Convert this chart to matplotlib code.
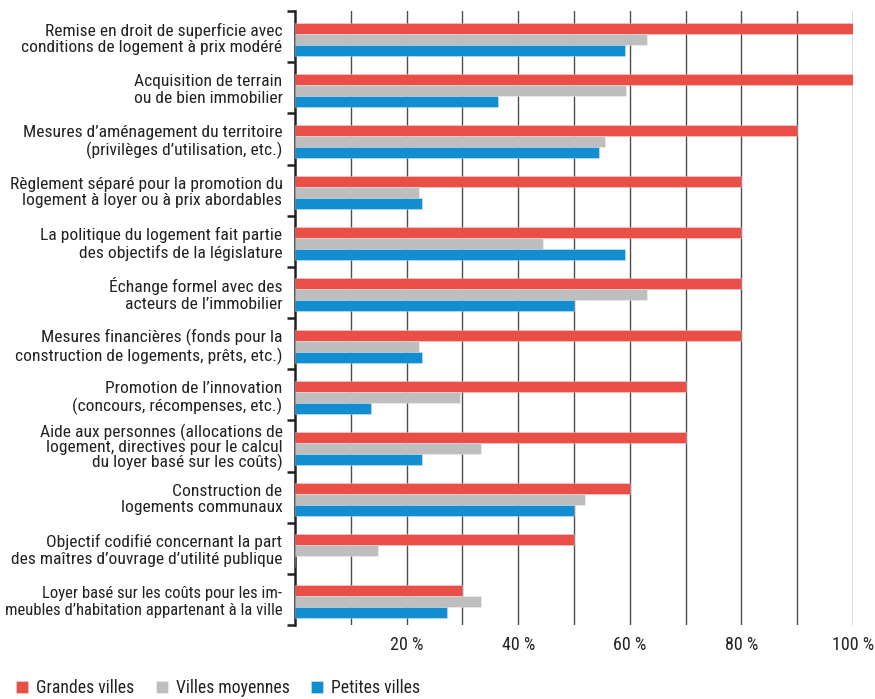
import numpy as np
import matplotlib
matplotlib.use("Agg")
import matplotlib.pyplot as plt
from matplotlib import font_manager

# pick a condensed sans if one is installed
_fonts = font_manager.fontManager.ttflist
_names = {f.name for f in _fonts}
_stretch = "normal"
_family = None
for cand in ["Roboto Condensed", "Liberation Sans Narrow", "Open Sans Condensed",
             "Noto Sans Condensed", "DejaVu Sans Condensed"]:
    if cand in _names:
        _family = cand
        break
if _family is None:
    for f in _fonts:
        if f.name in ("Noto Sans", "Roboto", "DejaVu Sans", "Open Sans") and \
                str(f.stretch) in ("condensed", "semi-condensed", "extra-condensed", "75", "87", "62"):
            _family = f.name
            _stretch = f.stretch
            break
if _family is None:
    _family = "Roboto"

plt.rcParams['font.family'] = [_family, 'DejaVu Sans']
plt.rcParams['font.stretch'] = _stretch

categories = [
    "Remise en droit de superficie avec\nconditions de logement à prix modéré",
    "Acquisition de terrain\nou de bien immobilier",
    "Mesures d’aménagement du territoire\n(privilèges d’utilisation, etc.)",
    "Règlement séparé pour la promotion du\nlogement à loyer ou à prix abordables",
    "La politique du logement fait partie\ndes objectifs de la législature",
    "Échange formel avec des\nacteurs de l’immobilier",
    "Mesures financières (fonds pour la\nconstruction de logements, prêts, etc.)",
    "Promotion de l’innovation\n(concours, récompenses, etc.)",
    "Aide aux personnes (allocations de\nlogement, directives pour le calcul\ndu loyer basé sur les coûts)",
    "Construction de\nlogements communaux",
    "Objectif codifié concernant la part\ndes maîtres d’ouvrage d’utilité publique",
    "Loyer basé sur les coûts pour les im-\nmeubles d’habitation appartenant à la ville",
]

grandes = [100, 100, 90, 80, 80, 80, 80, 70, 70, 60, 50, 30]
moyennes = [63.0, 59.3, 55.6, 22.2, 44.4, 63.0, 22.2, 29.6, 33.3, 51.9, 14.8, 33.3]
petites = [59.1, 36.4, 54.5, 22.7, 59.1, 50.0, 22.7, 13.6, 22.7, 50.0, 0.0, 27.3]

series_names = ["Grandes villes", "Villes moyennes", "Petites villes"]
colors = ["#E94F47", "#BEBEBE", "#128DD0"]

xticks = [20, 40, 60, 80, 100]
xtick_labels = ["20 %", "40 %", "60 %", "80 %", "100 %"]

fig = plt.figure(figsize=(8.75, 6.99), dpi=100)
ax = fig.add_axes([295 / 875, 1 - 625 / 699, 558 / 875, 614 / 699])

n = len(categories)
y = np.arange(n)
h = 0.215
shift = 0.05

for i, (vals, name, c) in enumerate(zip([grandes, moyennes, petites], series_names, colors)):
    ax.barh(y + shift + (i - 1) * h, vals, height=h, color=c, label=name,
            edgecolor=(1, 1, 1, 0.5), linewidth=0.4, zorder=3)

ax.set_ylim(n - 0.5, -0.5)
ax.set_xlim(0, 100)

# vertical grid every 10 %
for gx in range(10, 101, 10):
    ax.axvline(gx, color="#4d4d4d", linewidth=1.0, zorder=1)

for s in ["top", "right", "bottom"]:
    ax.spines[s].set_visible(False)
ax.spines["left"].set_linewidth(1.8)
ax.spines["left"].set_color("#222222")

# ticks on category boundaries, labels on category centers
ax.set_yticks(np.arange(-0.5, n, 1.0))
ax.set_yticklabels([])
ax.tick_params(axis="y", which="major", length=6, width=1.8, color="#222222")
ax.set_yticks(y, minor=True)
ax.set_yticklabels(categories, minor=True, fontsize=12.6, color="#222222",
                   ha="right", multialignment="right", linespacing=1.15)
ax.tick_params(axis="y", which="minor", length=0, pad=9)
ylabels = ax.get_yticklabels(minor=True)
ylabels[8].set_linespacing(0.9)
ylabels[11].set_fontsize(12.0)

ax.set_xticks(xticks)
ax.set_xticklabels(xtick_labels, fontsize=13, color="#222222")
ax.tick_params(axis="x", length=0, pad=8)

fig.legend(loc="lower left", bbox_to_anchor=(0.0, -0.02), ncol=3, frameon=False,
           fontsize=12.7, handlelength=0.7, handleheight=0.7, handletextpad=0.45,
           columnspacing=1.2, labelcolor="#222222")

fig.savefig("out.png", dpi=100)
